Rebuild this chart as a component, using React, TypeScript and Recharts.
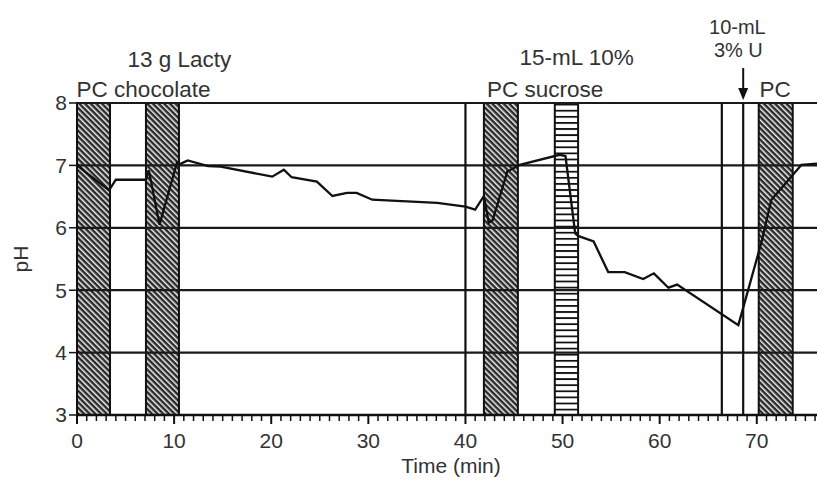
import React from "react";
import {
  ComposedChart,
  Line,
  XAxis,
  YAxis,
  ReferenceArea,
  ReferenceLine,
  ReferenceDot,
} from "recharts";

// time (min) and pH
const times = [
  0, 3.3, 4.0, 7.1, 7.4, 8.5, 10.3, 10.6, 11.4, 13.5, 14.8, 20.1, 21.3, 22.1, 24.7, 26.3, 27.8, 28.8,
  30.4, 31.9, 37.1, 40.0, 41.0, 41.9, 42.4, 42.8, 44.1, 44.3, 45.6, 49.7, 50.3, 51.3, 51.6, 53.2,
  54.7, 56.4, 58.3, 59.4, 60.9, 61.8, 68.1, 70.5, 70.9, 71.5, 72.4, 74.6, 76.2,
];
const phValues = [
  7.0, 6.6, 6.77, 6.77, 6.92, 6.05, 7.05, 7.02, 7.08, 6.99, 6.98, 6.82, 6.93, 6.81, 6.74, 6.51, 6.56, 6.56,
  6.45, 6.44, 6.4, 6.34, 6.29, 6.51, 6.08, 6.12, 6.79, 6.9, 7.01, 7.17, 7.15, 5.91, 5.87, 5.78,
  5.29, 5.29, 5.18, 5.27, 5.04, 5.09, 4.44, 5.78, 6.05, 6.45, 6.61, 7.01, 7.03,
];

// PC (hatched) periods and the sucrose (striped) period
const pcPeriods = [
  [0, 3.4],
  [7.1, 10.5],
  [41.9, 45.4],
  [70.2, 73.7],
];
const sucrosePeriod = [49.2, 51.6];
const markerTimes = [40, 66.4, 68.6];

const xMinor = Array.from({ length: 77 }, (_, i) => i);
const yTicks = [3, 4, 5, 6, 7, 8];

const notes = [
  { text: "13 g Lacty", x: 10.55, y: 8.58, size: 22.5 },
  { text: "PC chocolate", x: 6.85, y: 8.1, size: 22.5 },
  { text: "15-mL 10%", x: 51.45, y: 8.61, size: 22.5 },
  { text: "PC sucrose", x: 48.2, y: 8.1, size: 22.5 },
  { text: "10-mL", x: 68.0, y: 9.11, size: 20 },
  { text: "3% U", x: 68.1, y: 8.74, size: 20 },
  { text: "PC", x: 71.9, y: 8.1, size: 22.5 },
];

const data = times.map((t, i) => ({ t, ph: phValues[i] }));

const FONT = "'Liberation Sans', Arial, sans-serif";
const TEXT = "#333";

function TimeTick(props: any) {
  const { x, y, payload } = props;
  const v = payload.value;
  const major = v % 10 === 0;
  return (
    <g>
      <line x1={x} x2={x} y1={y} y2={y + (major ? 9 : 6)} stroke="#111" strokeWidth={major ? 2 : 1.5} />
      {major ? (
        <text x={x} y={y + 33} textAnchor="middle" fontSize={21} fill={TEXT} fontFamily={FONT}>
          {v}
        </text>
      ) : null}
    </g>
  );
}

export default function App() {
  return (
    <div style={{ position: "absolute", left: 0, top: 0, width: 817, height: 482, background: "#fff" }}>
      <svg width={0} height={0} style={{ position: "absolute" }}>
        <defs>
          <pattern id="hatch" width={4} height={4} patternUnits="userSpaceOnUse" patternTransform="rotate(-45)">
            <rect width={4} height={4} fill="#2a2a2a" />
            <rect width={1.5} height={4} fill="#f0f0f0" />
          </pattern>
          <pattern id="rungs" width={10} height={6.1} patternUnits="userSpaceOnUse">
            <rect width={10} height={6.1} fill="#fff" />
            <rect y={0} width={10} height={1.8} fill="#111" />
          </pattern>
        </defs>
      </svg>
      <ComposedChart width={817} height={482} data={data} margin={{ top: 103, right: 0, bottom: 27, left: 0 }}>
        <XAxis
          dataKey="t"
          type="number"
          domain={[0, 76.2]}
          ticks={xMinor}
          interval={0}
          allowDataOverflow
          height={40}
          tickLine={false}
          tickSize={0}
          tickMargin={0}
          tick={<TimeTick />}
          axisLine={{ stroke: "#111", strokeWidth: 2.5 }}
          label={{
            content: (p: any) => (
              <text
                x={p.viewBox.x + p.viewBox.width / 2 + 4}
                y={p.viewBox.y + 58}
                textAnchor="middle"
                fontSize={21}
                fill={TEXT}
                fontFamily={FONT}
              >
                Time (min)
              </text>
            ),
          }}
        />
        <YAxis
          type="number"
          domain={[3, 8]}
          ticks={yTicks}
          interval={0}
          width={77}
          tickSize={8}
          tickMargin={2}
          tick={{ fontSize: 21, fill: TEXT, fontFamily: FONT }}
          tickLine={{ stroke: "#111", strokeWidth: 1.5 }}
          axisLine={{ stroke: "#111", strokeWidth: 2 }}
          label={{
            content: (p: any) => {
              const cx = 20;
              const cy = p.viewBox.y + p.viewBox.height / 2;
              return (
                <text
                  x={cx}
                  y={cy}
                  transform={`rotate(-90, ${cx}, ${cy})`}
                  textAnchor="middle"
                  dominantBaseline="central"
                  fontSize={21}
                  fill={TEXT}
                  fontFamily={FONT}
                >
                  pH
                </text>
              );
            },
          }}
        />
        {pcPeriods.map(([a, b]) => (
          <ReferenceArea key={`pc-${a}`} x1={a} x2={b} y1={3} y2={8} fill="url(#hatch)" fillOpacity={1} stroke="#111" strokeWidth={2} />
        ))}
        <ReferenceArea
          x1={sucrosePeriod[0]}
          x2={sucrosePeriod[1]}
          y1={3}
          y2={8}
          fill="url(#rungs)"
          fillOpacity={1}
          stroke="#111"
          strokeWidth={2}
        />
        {yTicks.slice(1).map((v) => (
          <ReferenceLine key={`h-${v}`} y={v} stroke="#1a1a1a" strokeWidth={2.2} />
        ))}
        {markerTimes.map((v) => (
          <ReferenceLine key={`v-${v}`} x={v} stroke="#111" strokeWidth={2.2} />
        ))}
        <ReferenceLine
          segment={[
            { x: 68.6, y: 8.56 },
            { x: 68.6, y: 8.15 },
          ]}
          stroke="#111"
          strokeWidth={2}
          ifOverflow="visible"
        />
        <ReferenceDot
          x={68.6}
          y={8.05}
          ifOverflow="visible"
          shape={(p: any) => (
            <path d={`M${p.cx - 5},${p.cy - 12} L${p.cx + 5},${p.cy - 12} L${p.cx},${p.cy} Z`} fill="#111" />
          )}
        />
        {notes.map((n) => (
          <ReferenceDot
            key={n.text}
            x={n.x}
            y={n.y}
            ifOverflow="visible"
            shape={(p: any) => (
              <text x={p.cx} y={p.cy} textAnchor="middle" fontSize={n.size} fill={TEXT} fontFamily={FONT}>
                {n.text}
              </text>
            )}
          />
        ))}
        <Line
          dataKey="ph"
          type="linear"
          stroke="#111"
          strokeWidth={2.3}
          dot={false}
          isAnimationActive={false}
        />
      </ComposedChart>
    </div>
  );
}
